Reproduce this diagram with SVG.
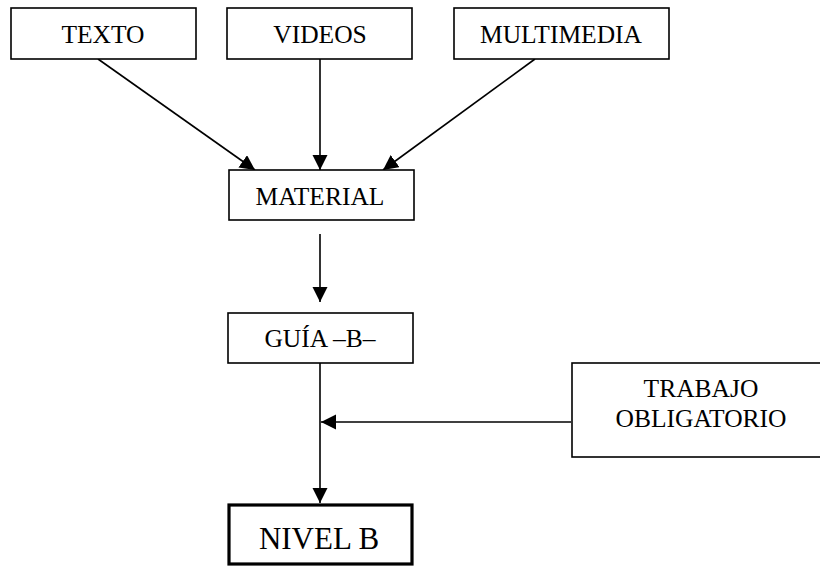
<svg xmlns="http://www.w3.org/2000/svg" width="820" height="567" viewBox="0 0 820 567">
<style>
.box{fill:#fff;stroke:#000;stroke-width:1.6}
.thick{fill:#fff;stroke:#000;stroke-width:3.2}
.lbl{font-family:"Liberation Serif","Times New Roman",serif;font-size:25.5px;fill:#000;text-anchor:middle}
.big{font-size:31px}
.edge{stroke:#000;stroke-width:1.6;fill:none;marker-end:url(#ah)}
</style>
<defs>
<marker id="ah" markerUnits="userSpaceOnUse" markerWidth="16" markerHeight="16" refX="15" refY="7.5" orient="auto">
<path d="M0,0 L15,7.5 L0,15 z" fill="#000"/>
</marker>
</defs>
<rect width="820" height="567" fill="#fff"/>
<g id="connectors">
<line class="edge" x1="98" y1="59" x2="255" y2="170"/>
<line class="edge" x1="320" y1="59" x2="320" y2="170"/>
<line class="edge" x1="535" y1="59" x2="383" y2="170"/>
<line class="edge" x1="320" y1="234" x2="320" y2="302"/>
<line class="edge" x1="320" y1="363" x2="320" y2="503"/>
<line class="edge" x1="571" y1="422" x2="321" y2="422"/>
</g>
<g id="texto">
<rect class="box" x="11" y="8" width="185" height="51"/>
<text class="lbl" x="103" y="42.5">TEXTO</text>
</g>
<g id="videos">
<rect class="box" x="227" y="8" width="185" height="51"/>
<text class="lbl" x="320" y="42.5">VIDEOS</text>
</g>
<g id="multimedia">
<rect class="box" x="454" y="8" width="215" height="51"/>
<text class="lbl" x="561" y="42.5">MULTIMEDIA</text>
</g>
<g id="material">
<rect class="box" x="229" y="170" width="185" height="50"/>
<text class="lbl" x="320" y="205">MATERIAL</text>
</g>
<g id="guia">
<rect class="box" x="228" y="313" width="185" height="50"/>
<text class="lbl" x="320" y="347">GUÍA –B–</text>
</g>
<g id="trabajo">
<rect class="box" x="572" y="363" width="260" height="94"/>
<text class="lbl" x="701" y="397">TRABAJO</text>
<text class="lbl" x="701" y="427">OBLIGATORIO</text>
</g>
<g id="nivelb">
<rect class="thick" x="229" y="505" width="183" height="59"/>
<text class="lbl big" x="319" y="549">NIVEL B</text>
</g>
</svg>
